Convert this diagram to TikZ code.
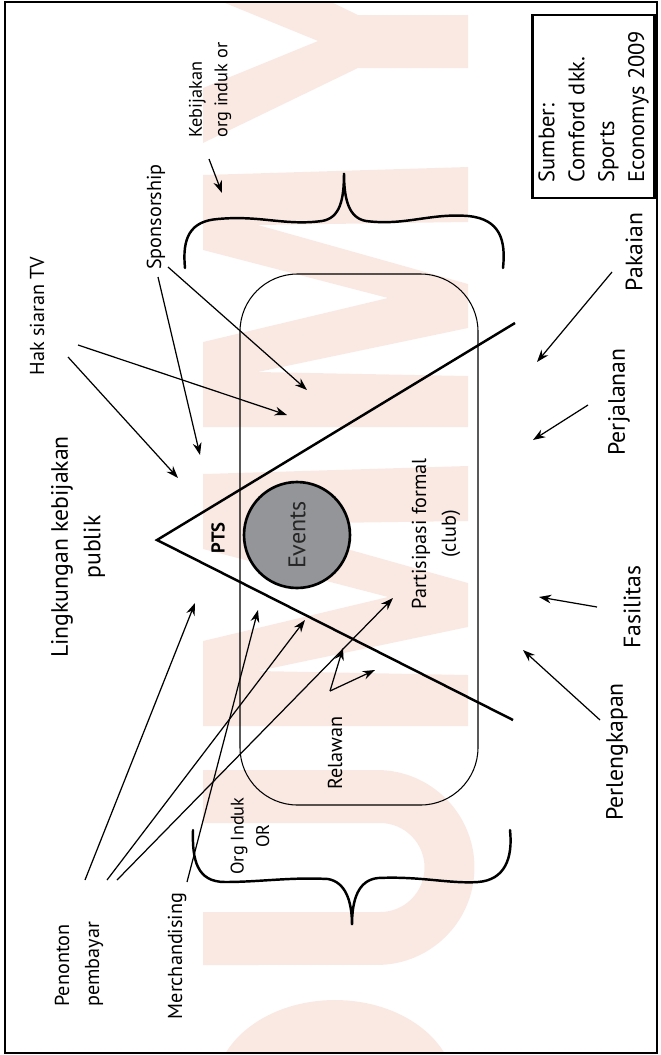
\documentclass[tikz,border=0pt]{standalone}
\usepackage{fontspec}
\setmainfont{PT Sans}
\usetikzlibrary{arrows.meta}

\definecolor{wmark}{RGB}{250,233,226}
\definecolor{eventgray}{RGB}{147,149,152}

\begin{document}
\begin{tikzpicture}[x=0.02cm, y=-0.02cm,
    lbl/.style={rotate=90, inner sep=0pt, font=\fontsize{11.5}{17}\selectfont},
    biglbl/.style={rotate=90, inner sep=0pt, font=\fontsize{13.5}{18.5}\selectfont},
    smalllbl/.style={rotate=90, inner sep=0pt, font=\fontsize{10.4}{14.5}\selectfont},
    arrow/.style={-{Stealth[length=7pt, width=5pt]}, line width=0.7pt},
    brace/.style={line width=1.4pt, line cap=round},
    vline/.style={line width=1.4pt}
]

    \useasboundingbox (0,0) rectangle (660,1055);

    % Watermark
    \begin{scope}
        \clip (5,2) rectangle (657,1053);
        \fill[wmark] (468,15) -- (358,15) -- (203,-60) -- (203,-6) -- (318,41) -- (203,88)
            -- (203,143) -- (358,68) -- (468,68) -- cycle;
        \foreach \dy in {0,299} {
            \fill[wmark, shift={(0,\dy)}] (203,175) -- (468,167) -- (468,222) -- (258,225)
                -- (468,284) -- (468,328) -- (258,372) -- (468,376) -- (468,427)
                -- (203,427) -- (203,342) -- (388,298) -- (203,250) -- cycle;
        }
        \fill[wmark] (203,770) -- (377,770) arc[start angle=90, end angle=-90, radius=1.95cm]
            -- (203,965) -- (203,912) -- (380,912) arc[start angle=-90, end angle=90, radius=0.89cm]
            -- (203,823) -- cycle;
        \fill[wmark] (335,1090) ellipse [x radius=2.4cm, y radius=1.8cm];
    \end{scope}

    % Frame
    \draw[line width=1.5pt] (5,2) rectangle (657,1053);

    % Club and triangle
    \draw[line width=0.6pt, rounded corners=1.15cm] (240,274) rectangle (478,805);
    \coordinate (apex) at (157,540);
    \coordinate (vtop) at (515,323);
    \coordinate (vbot) at (513,720);
    \draw[vline] (vtop) -- (apex) -- (vbot);

    % Events
    \node[circle, draw, line width=1.5pt, fill=eventgray, minimum size=2.12cm, inner sep=0pt,
          rotate=90, font=\fontsize{13.7}{16}\selectfont, text=black!85] (events) at (297,535) {Events};
    \node[rotate=90, inner sep=0pt, font=\fontsize{10.6}{12}\selectfont\bfseries] (pts) at (218,538) {PTS};
    \node[lbl, align=center] (partisipasi) at (436,534) {Partisipasi formal\\(club)};
    \node[lbl] (relawan) at (335,753) {Relawan};
    \node[smalllbl, align=center] (orginduk) at (250,836) {Org Induk\\OR};

    % Braces
    \draw[brace] (185,268) .. controls (182,238) and (190,221) .. (218,219)
        .. controls (260,215) and (285,226) .. (322,221)
        .. controls (340,218) and (344,200) .. (344,173)
        .. controls (344,200) and (349,218) .. (366,221)
        .. controls (405,226) and (430,213) .. (468,216)
        .. controls (500,219) and (506,240) .. (503,268);
    \draw[brace] (193,830) .. controls (192,860) and (197,882) .. (225,882)
        .. controls (260,882) and (290,877) .. (328,879)
        .. controls (345,882) and (352,900) .. (352,925)
        .. controls (352,900) and (358,880) .. (378,878)
        .. controls (420,876) and (450,884) .. (478,882)
        .. controls (505,880) and (513,858) .. (510,830);

    % Source
    \node[draw, line width=1.4pt, rotate=90, minimum width=3.66cm, minimum height=2.38cm,
          align=left, font=\fontsize{12.8}{17}\selectfont] (source) at (593.5,106.5)
          {Sumber:\\Comford dkk.\\Sports\\Economys 2009};

    % Left labels
    \node[biglbl, align=center] (policy) at (78,547) {Lingkungan kebijakan\\publik};
    \node[lbl] (haktv) at (37,316) {Hak siaran TV};
    \node[lbl] (sponsor) at (156,217) {Sponsorship};
    \node[smalllbl, anchor=west, align=left] (kebijakan) at (210,138) {Kebijakan\\org induk or};
    \node[lbl, anchor=west, align=left] (penonton) at (79,1007) {Penonton\\pembayar};
    \node[lbl] (merch) at (177,956) {Merchandising};

    % Right labels
    \node[biglbl] (pakaian) at (634,252) {Pakaian};
    \node[biglbl] (perjalanan) at (619,402) {Perjalanan};
    \node[biglbl] (fasilitas) at (632,607) {Fasilitas};
    \node[biglbl] (perlengkapan) at (617,752) {Perlengkapan};

    % Arrow ends
    \coordinate (hak1) at (78,345);
    \coordinate (hak1t) at (287,415);
    \coordinate (hak2) at (68,357);
    \coordinate (hak2t) at (178,478);
    \coordinate (spon1) at (168,267);
    \coordinate (spon1t) at (307,390);
    \coordinate (spon2) at (158,277);
    \coordinate (spon2t) at (200,455);
    \coordinate (keb) at (209,159);
    \coordinate (kebt) at (222,193);
    \coordinate (pak) at (612,272);
    \coordinate (pakt) at (537,362);
    \coordinate (perj) at (588,405);
    \coordinate (perjt) at (533,440);
    \coordinate (fas) at (597,607);
    \coordinate (fast) at (539,597);
    \coordinate (perl) at (600,720);
    \coordinate (perlt) at (523,650);
    \coordinate (pen1) at (85,880);
    \coordinate (pen1t) at (195,603);
    \coordinate (pen2) at (107,880);
    \coordinate (pen2t) at (305,620);
    \coordinate (pen3) at (117,880);
    \coordinate (pen3t) at (393,598);
    \coordinate (mer) at (187,882);
    \coordinate (mert) at (258,610);
    \coordinate (rel) at (330,691);
    \coordinate (rel1t) at (343,648);
    \coordinate (rel2t) at (375,670);

    % Arrows
    \draw[arrow] (hak1) -- (hak1t);
    \draw[arrow] (hak2) -- (hak2t);
    \draw[arrow] (spon1) -- (spon1t);
    \draw[arrow] (spon2) -- (spon2t);
    \draw[arrow] (keb) -- (kebt);
    \draw[arrow] (pak) -- (pakt);
    \draw[arrow] (perj) -- (perjt);
    \draw[arrow] (fas) -- (fast);
    \draw[arrow] (perl) -- (perlt);
    \draw[arrow] (pen1) -- (pen1t);
    \draw[arrow] (pen2) -- (pen2t);
    \draw[arrow] (pen3) -- (pen3t);
    \draw[arrow] (mer) -- (mert);
    \draw[arrow] (rel) -- (rel1t);
    \draw[arrow] (rel) -- (rel2t);

\end{tikzpicture}
\end{document}
